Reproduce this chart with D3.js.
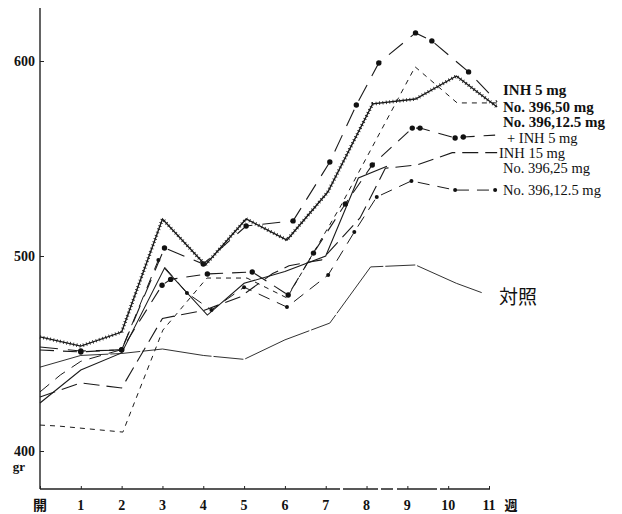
<!DOCTYPE html>
<html>
<head>
<meta charset="utf-8">
<script src="https://cdn.jsdelivr.net/npm/d3@7"></script>
<style>
  body { margin: 0; background: #fff; }
  .lbl { font-family: "Liberation Serif", "DejaVu Serif", serif; fill: #111; }
  .line { fill: none; stroke: #1a1a1a; }
</style>
</head>
<body>
<div id="myChart"></div>
<script>
//Tick labels
var yTicks = [400, 500, 600];
var xTicks = [0, 1, 2, 3, 4, 5, 6, 7, 8, 9, 10, 11];
var xTickLabels = ["開", "1", "2", "3", "4", "5", "6", "7", "8", "9", "10", "11"];

//Series (week, body weight in gr)
var inh5Weeks = [0, 1, 2, 3, 4.05, 5.05, 6.05, 7.05, 8.15, 9.2, 10.2, 11.2];
var inh5Values = [458.5, 453.8, 461, 519, 495.4, 519, 508.2, 532.8, 578, 580.5, 592.3, 576.4];

var no50Weeks = [0, 1, 2, 3.05, 4, 5.05, 6.2, 7.1, 7.75, 8.3, 9.2, 9.6, 10.5, 11.2];
var no50Values = [453.3, 451.3, 451.8, 504.1, 495.9, 515.4, 518, 548.2, 577.4, 599, 614.4, 610.3, 594.4, 579];

var comboWeeks = [0, 1, 2, 2.99, 3.2, 4.1, 5.2, 6.08, 6.7, 7.48, 8.14, 9.12, 9.31, 10.17, 10.37, 11.15];
var comboValues = [451.8, 450.8, 452, 485, 488, 490.8, 491.8, 480, 501.5, 526.7, 546.7, 565.6, 565.6, 560.5, 561, 562];

var no25Weeks = [0, 0.45, 2.03, 3.01, 4.09, 5.07, 6.05, 7.35, 9.19, 10.22, 11.2];
var no25Values = [413.3, 412.8, 409.7, 462, 488.7, 488.7, 478.5, 525, 597, 578.5, 578.5];

var inh15Weeks = [0, 1, 2, 3, 4, 4.9, 5.7, 6.1, 6.9, 7.84, 8.46, 9.24, 10.1, 11.2];
var inh15Values = [427.7, 434.9, 432.3, 468, 472, 479, 491, 495, 498, 519.5, 545, 546.7, 553, 553];

var no12Weeks = [0, 0.5, 1, 2, 2.9, 3.6, 4.2, 5, 6.05, 7.06, 7.7, 8.25, 9.1, 10.17, 11.15];
var no12Values = [430.3, 439, 446, 452, 498, 481, 472.3, 484, 473.8, 490.3, 512.3, 530.3, 538.5, 533.8, 533.8];

var solidWeeks = [0, 1, 2, 3.05, 4.1, 5, 6, 7, 7.8, 8.5];
var solidValues = [424.6, 441.5, 450.3, 493.8, 469.7, 486, 492, 500, 540, 546];

var controlWeeks = [0, 1, 2, 3, 4, 5, 6, 7.1, 8.1, 9.2, 10.2, 10.85];
var controlValues = [443, 449, 450, 452.3, 449, 447, 457, 465.6, 494.4, 495.4, 486, 481];

//Legend texts at the line ends
var legendTexts = ["INH  5 mg", "No. 396,50 mg", "No. 396,12.5 mg", "+  INH  5 mg", "INH  15 mg", "No. 396,25 mg", "No. 396,12.5 mg"];
var legendY = [95, 112, 127, 143, 158, 173, 195];
var legendX = [503, 503, 503, 507, 499, 503, 503];

function pack(ws, vs) {
    return ws.map(function (w, i) { return { w: w, v: vs[i] }; });
}

var width = 622, height = 514;

var x = d3.scaleLinear().domain([0, 11]).range([40, 489]);
var y = d3.scaleLinear().domain([400, 600]).range([451, 61]);

var svg = d3.select("#myChart")
    .append("svg")
    .attr("width", width)
    .attr("height", height);

var lineFn = d3.line()
    .x(function (d) { return x(d.w); })
    .y(function (d) { return y(d.v); });

//Axes
var yAxis = svg.append("g")
    .attr("transform", "translate(40,0)")
    .call(d3.axisRight(y).tickValues(yTicks).tickSize(4).tickFormat(""));
yAxis.select(".domain").remove();
yAxis.selectAll("line").attr("stroke", "#222");
svg.append("line")
    .attr("x1", 40).attr("x2", 40)
    .attr("y1", 8).attr("y2", 489)
    .attr("stroke", "#222").attr("stroke-width", 1.4);

var xAxis = svg.append("g")
    .attr("transform", "translate(0,489)")
    .call(d3.axisTop(x).tickValues(xTicks).tickSize(3).tickFormat(""));
xAxis.select(".domain").remove();
xAxis.selectAll("line").attr("stroke", "#222");
svg.append("line")
    .attr("x1", 40).attr("x2", 490)
    .attr("y1", 489).attr("y2", 489)
    .attr("stroke", "#222").attr("stroke-width", 1.4)
    .attr("stroke-dasharray", "300,3,35,3,12,4,40,3,60,6,6,14,10");

//Y tick labels
svg.selectAll(".ylab")
    .data(yTicks)
    .enter().append("text")
    .attr("class", "lbl")
    .attr("x", 35)
    .attr("y", function (d) { return y(d) + 5; })
    .attr("text-anchor", "end")
    .style("font-size", "14px")
    .style("font-weight", "bold")
    .text(function (d) { return d; });

svg.append("text")
    .attr("class", "lbl")
    .attr("x", 19).attr("y", 471)
    .attr("text-anchor", "middle")
    .style("font-size", "13px")
    .style("font-weight", "bold")
    .text("gr");

//X tick labels
svg.selectAll(".xlab")
    .data(xTicks)
    .enter().append("text")
    .attr("class", "lbl")
    .attr("x", function (d) { return x(d); })
    .attr("y", 510)
    .attr("text-anchor", "middle")
    .style("font-size", "14px")
    .style("font-weight", "bold")
    .style("font-family", function (d) { return d === 0 ? "'Noto Sans CJK JP'" : null; })
    .text(function (d, i) { return xTickLabels[i]; });

svg.append("text")
    .attr("class", "lbl")
    .attr("x", 511).attr("y", 510)
    .attr("text-anchor", "middle")
    .style("font-size", "13px")
    .style("font-weight", "bold")
    .style("font-family", "'Noto Sans CJK JP'")
    .text("週");

//Control line
svg.append("path")
    .datum(pack(controlWeeks, controlValues))
    .attr("class", "line")
    .attr("stroke", "#333")
    .attr("stroke-width", 0.9)
    .attr("stroke-dasharray", "70,2,30,2")
    .attr("d", lineFn);

//Solid line
svg.append("path")
    .datum(pack(solidWeeks, solidValues))
    .attr("class", "line")
    .attr("stroke-width", 1.1)
    .attr("d", lineFn);

//INH 15 mg long dash
svg.append("path")
    .datum(pack(inh15Weeks, inh15Values))
    .attr("class", "line")
    .attr("stroke-width", 1.1)
    .attr("stroke-dasharray", "16,7")
    .attr("d", lineFn);

//No. 396,25 mg short dash
svg.append("path")
    .datum(pack(no25Weeks, no25Values))
    .attr("class", "line")
    .attr("stroke-width", 1)
    .attr("stroke-dasharray", "5,5")
    .attr("d", lineFn);

//No. 396,12.5 mg dash with small dots
var no12 = pack(no12Weeks, no12Values);
svg.append("path")
    .datum(no12)
    .attr("class", "line")
    .attr("stroke-width", 1)
    .attr("stroke-dasharray", "12,8")
    .attr("d", lineFn);
svg.selectAll(".d12")
    .data(no12.slice(4))
    .enter().append("circle")
    .attr("cx", function (d) { return x(d.w); })
    .attr("cy", function (d) { return y(d.v); })
    .attr("r", 2)
    .attr("fill", "#111");

//Combination, big dots
var combo = pack(comboWeeks, comboValues);
svg.append("path")
    .datum(combo)
    .attr("class", "line")
    .attr("stroke-width", 1.1)
    .attr("stroke-dasharray", "14,9")
    .attr("d", lineFn);
svg.selectAll(".dc")
    .data(combo.slice(1, -1))
    .enter().append("circle")
    .attr("cx", function (d) { return x(d.w); })
    .attr("cy", function (d) { return y(d.v); })
    .attr("r", 2.7)
    .attr("fill", "#111");

//No. 396,50 mg, big dots
var no50 = pack(no50Weeks, no50Values);
svg.append("path")
    .datum(no50)
    .attr("class", "line")
    .attr("stroke-width", 1.1)
    .attr("stroke-dasharray", "18,10")
    .attr("d", lineFn);
svg.selectAll(".d50")
    .data(no50.slice(1, -1))
    .enter().append("circle")
    .attr("cx", function (d) { return x(d.w); })
    .attr("cy", function (d) { return y(d.v); })
    .attr("r", 2.7)
    .attr("fill", "#111");

//INH 5 mg hatched line
var inh5 = pack(inh5Weeks, inh5Values);
svg.append("path")
    .datum(inh5)
    .attr("class", "line")
    .attr("stroke-width", 1.4)
    .attr("d", lineFn);
svg.append("path")
    .datum(inh5)
    .attr("class", "line")
    .attr("stroke-width", 3.6)
    .attr("stroke-dasharray", "0.8,2.6")
    .attr("d", lineFn);

//Legend text
svg.selectAll(".leg")
    .data(legendTexts)
    .enter().append("text")
    .attr("class", "lbl")
    .attr("x", function (d, i) { return legendX[i]; })
    .attr("y", function (d, i) { return legendY[i]; })
    .style("font-size", function (d, i) { return i < 3 ? "15px" : "14.5px"; })
    .style("font-weight", function (d, i) { return i < 3 ? "bold" : "normal"; })
    .text(function (d) { return d; });

svg.append("text")
    .attr("x", 499).attr("y", 304)
    .style("font-family", "'Noto Sans CJK JP'")
    .style("font-size", "19px")
    .style("fill", "#111")
    .text("対照");
</script>
</body>
</html>
